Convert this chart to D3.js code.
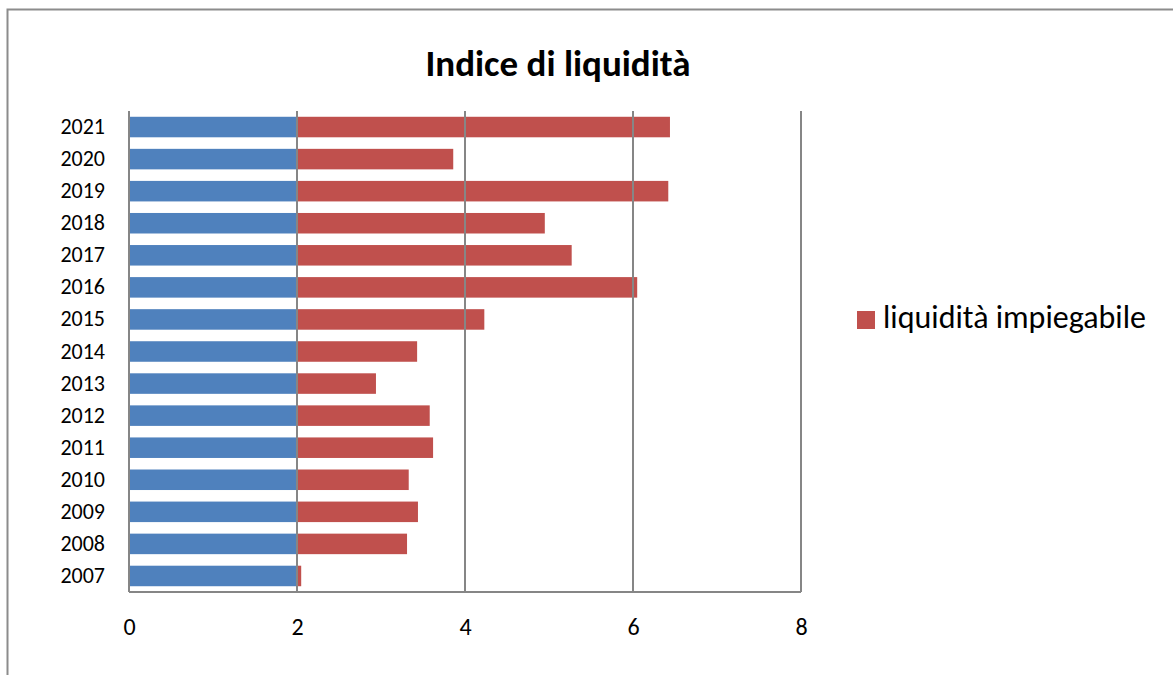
<!DOCTYPE html>
<meta charset="utf-8">
<style>
body { margin: 0; background: #fff; }
svg text { font-family: Carlito, Lato, sans-serif; fill: #000; }
.grid line { stroke: #868686; stroke-width: 2; }
.axis path, .axis line { display: none; }
.ylab text { font-size: 22px; }
.xlab text { font-size: 24px; }
</style>
<body>
<svg width="1173" height="675"></svg>
<script src="https://d3js.org/d3.v7.min.js"></script>
<script>

var years = ["2007","2008","2009","2010","2011","2012","2013","2014","2015","2016","2017","2018","2019","2020","2021"];
var baseValues = [2,2,2,2,2,2,2,2,2,2,2,2,2,2,2];
var liquidValues = [0.05,1.31,1.44,1.33,1.62,1.58,0.94,1.43,2.23,4.05,3.27,2.95,4.42,1.86,4.44];
var xTicks = [0, 2, 4, 6, 8];
var seriesName = "liquidità impiegabile";
var chartTitle = "Indice di liquidità";

var svg = d3.select("svg");
var margin = {top: 111, left: 129, right: 372, bottom: 83};
var width = 1173 - margin.left - margin.right;   // 672
var height = 675 - margin.top - margin.bottom;   // 481

// outer frame (cut by the picture's right and bottom edges)
svg.append("rect")
    .attr("x", 7.5).attr("y", 9.5)
    .attr("width", 1300).attr("height", 800)
    .attr("fill", "none")
    .attr("stroke", "#8c8c8c")
    .attr("stroke-width", 2);

var table = years.map(function(y, i) {
    return {year: y, base: baseValues[i], liquid: liquidValues[i]};
});
var stacked = d3.stack().keys(["base", "liquid"])(table);

var xScale = d3.scaleLinear().domain([0, 8]).range([0, width]);
var yScale = d3.scaleBand()
    .domain(years.slice().reverse())
    .range([0, height])
    .paddingInner(0.36)
    .paddingOuter(0.18);

var g = svg.append("g")
    .attr("transform", "translate(" + margin.left + "," + margin.top + ")");

var colors = {base: "#4f81bd", liquid: "#c0504d"};

// bars
g.append("g").selectAll("g")
    .data(stacked)
    .enter().append("g")
    .attr("fill", function(d) { return colors[d.key]; })
    .selectAll("rect")
    .data(function(d) { return d; })
    .enter().append("rect")
    .attr("x", function(d) { return xScale(d[0]); })
    .attr("width", function(d) { return xScale(d[1]) - xScale(d[0]); })
    .attr("y", function(d) { return yScale(d.data.year); })
    .attr("height", yScale.bandwidth());

// gridlines drawn over bars, like the original
var grid = g.append("g").attr("class", "grid");
grid.selectAll("line.v")
    .data(xTicks)
    .enter().append("line")
    .attr("class", "v")
    .attr("x1", function(d) { return xScale(d); })
    .attr("x2", function(d) { return xScale(d); })
    .attr("y1", 0)
    .attr("y2", height);
grid.append("line")
    .attr("x1", xScale(0)).attr("x2", xScale(8))
    .attr("y1", height).attr("y2", height);

// y axis labels
g.append("g")
    .attr("class", "axis ylab")
    .call(d3.axisLeft(yScale).tickSize(0).tickPadding(24))
    .selectAll("text").attr("dy", "0.32em");

// x axis labels
g.append("g")
    .attr("class", "axis xlab")
    .attr("transform", "translate(0," + height + ")")
    .call(d3.axisBottom(xScale).tickValues(xTicks).tickSize(0).tickPadding(26).tickFormat(d3.format("d")));

// title
svg.append("text")
    .attr("x", 558).attr("y", 76)
    .attr("text-anchor", "middle")
    .style("font-size", "37px")
    .style("font-weight", "bold")
    .text(chartTitle);

// legend
var legend = svg.append("g").attr("transform", "translate(857,311)");
legend.append("rect")
    .attr("width", 18).attr("height", 18)
    .attr("fill", colors.liquid);
legend.append("text")
    .attr("x", 26).attr("y", 17)
    .style("font-size", "32px")
    .text(seriesName);

</script>
